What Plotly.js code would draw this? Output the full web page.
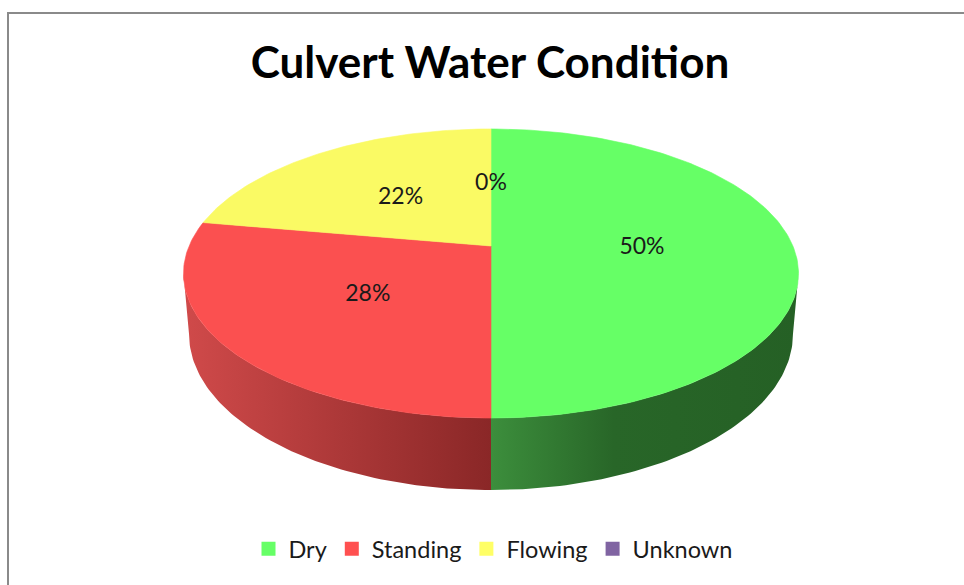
<!DOCTYPE html>
<html>
<head>
<meta charset="utf-8">
<script src="https://cdn.plot.ly/plotly-3.0.1.min.js"></script>
<style>html,body{margin:0;padding:0;background:#fff;}#chart{width:964px;height:585px;}</style>
</head>
<body>
<div id="chart"></div>
<script>
// ---- data ----
const categories = ['Dry', 'Standing', 'Flowing', 'Unknown'];
const counts = [9, 5, 4, 0];
const titleText = 'Culvert Water Condition';

// ---- styles ----
const topColors = ['#66FF66', '#FB5050', '#FAFA64', '#8064A2'];
const legendColors = ['#66FF66', '#FF5050', '#FFFF66', '#8064A2'];
const sideScales = [
  [[0, '#3c8e3c'], [0.4, '#286628'], [1, '#256025']],
  [[0, '#d04a4a'], [1, '#8a2727']],
  [[0, '#c8c850'], [1, '#9a9a30']],
  [[0, '#6a5090'], [1, '#4a3870']]
];

// ---- projection of a tilted disc (perspective) ----
const CX = 491, CY = 246, A = 301.9, B = 139.3, K = 0.1903, DEPTH = 58.3, SHRINK = 0.982;
function proj(theta, r, bottom) {
  const u = r * Math.sin(theta), v = r * Math.cos(theta);
  const d = 1 + K * v;
  const s = bottom ? SHRINK : 1;
  return [CX + s * A * u / d, CY - B * v / d + (bottom ? DEPTH / d : 0)];
}
const deg = Math.PI / 180;
const visLo = Math.acos(-K), visHi = 2 * Math.PI - Math.acos(-K);

const total = counts.reduce((a, b) => a + b, 0);
const sideTraces = [], topTraces = [], labelX = [], labelY = [], labelT = [];
let cum = 0;
counts.forEach((c, i) => {
  const a0 = cum / total * 2 * Math.PI;
  const a1 = (cum + c) / total * 2 * Math.PI;
  cum += c;
  // label
  const mid = (a0 + a1) / 2;
  const lp = proj(mid, 0.5, false);
  labelX.push(lp[0]); labelY.push(lp[1] + 2);
  labelT.push(Math.round(c / total * 100) + '%');
  if (c <= 0) return;
  // side (only visible front part)
  const s0 = Math.max(a0, visLo), s1 = Math.min(a1, visHi);
  if (s1 > s0) {
    const xs = [], ys = [];
    const n = Math.max(2, Math.ceil((s1 - s0) / deg));
    for (let j = 0; j <= n; j++) { const p = proj(s0 + (s1 - s0) * j / n, 1, false); xs.push(p[0]); ys.push(p[1]); }
    for (let j = n; j >= 0; j--) { const p = proj(s0 + (s1 - s0) * j / n, 1, true); xs.push(p[0]); ys.push(p[1]); }
    const xmin = Math.min(...xs), xmax = Math.max(...xs);
    sideTraces.push({
      type: 'scatter', mode: 'lines', x: xs, y: ys, fill: 'toself',
      line: {width: 0}, hoverinfo: 'skip', showlegend: false,
      fillgradient: {type: 'horizontal', start: xmin, stop: xmax, colorscale: sideScales[i]}
    });
  }
  // top face
  const xs = [CX], ys = [CY];
  const n = Math.max(2, Math.ceil((a1 - a0) / deg));
  for (let j = 0; j <= n; j++) { const p = proj(a0 + (a1 - a0) * j / n, 1, false); xs.push(p[0]); ys.push(p[1]); }
  xs.push(CX); ys.push(CY);
  topTraces.push({
    type: 'scatter', mode: 'lines', x: xs, y: ys, fill: 'toself', fillcolor: topColors[i],
    line: {width: 0.6, color: topColors[i]}, hoverinfo: 'skip', showlegend: false
  });
});

const labelTrace = {
  type: 'scatter', mode: 'text', x: labelX, y: labelY, text: labelT,
  textposition: 'middle center', textfont: {family: 'Lato, sans-serif', size: 23, color: '#1a1a1a'},
  hoverinfo: 'skip', showlegend: false
};

const legendTraces = categories.map((name, i) => ({
  type: 'scatter', mode: 'markers', x: [null], y: [null], name: name,
  marker: {symbol: 'square', size: 14, color: legendColors[i]}, hoverinfo: 'skip'
}));

const layout = {
  width: 964, height: 585,
  margin: {l: 0, r: 0, t: 0, b: 0},
  paper_bgcolor: '#ffffff', plot_bgcolor: '#ffffff',
  xaxis: {range: [0, 964], visible: false, fixedrange: true},
  yaxis: {range: [585, 0], visible: false, fixedrange: true},
  title: {text: '<b>' + titleText + '</b>', x: 490 / 964, xanchor: 'center', y: 1 - 63 / 585, yanchor: 'middle',
    yref: 'container', font: {family: 'Lato, sans-serif', size: 44, color: '#000000'}},
  showlegend: true,
  legend: {orientation: 'h', x: 493 / 964, xanchor: 'center', y: 1 - 549 / 585, yanchor: 'middle',
    font: {family: 'Lato, sans-serif', size: 23.5, color: '#1a1a1a'}, bgcolor: 'rgba(0,0,0,0)', itemclick: false},
  shapes: [{type: 'rect', xref: 'x', yref: 'y', x0: 8, x1: 975, y0: 13, y1: 600,
    line: {color: '#8a8a8a', width: 2}, fillcolor: 'rgba(0,0,0,0)', layer: 'above'}]
};

Plotly.newPlot('chart', [...sideTraces, ...topTraces, labelTrace, ...legendTraces], layout,
  {displayModeBar: false, staticPlot: true});
</script>
</body>
</html>
